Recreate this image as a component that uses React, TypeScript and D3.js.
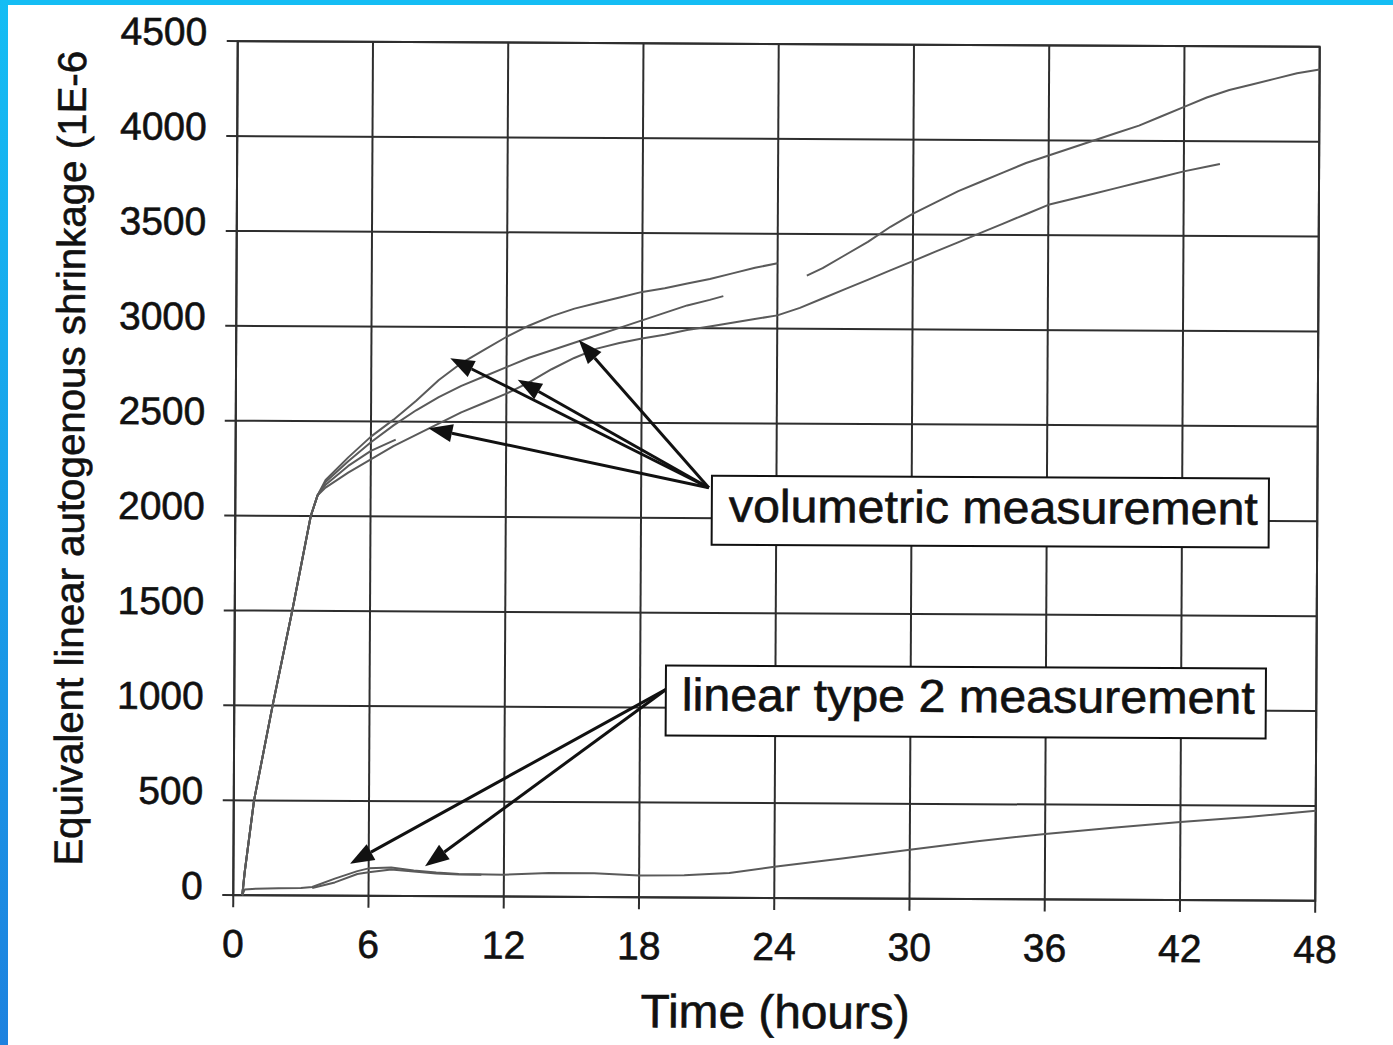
import React from "react";
import * as d3 from "d3";

const xTicks = [0, 6, 12, 18, 24, 30, 36, 42, 48];
const yTicks = [0, 500, 1000, 1500, 2000, 2500, 3000, 3500, 4000, 4500];

const riseTime = [0.4, 0.5, 0.9, 1.7, 2.55, 3.35, 3.65];
const riseValue = [0, 120, 500, 1000, 1500, 2000, 2110];

const volATime = [4, 5, 6, 7, 8, 9, 10, 11, 12, 13, 14, 15, 16, 17, 18, 19, 20, 21, 22, 23, 24];
const volAValue = [2190, 2310, 2420, 2510, 2610, 2720, 2810, 2880, 2950, 3010, 3060, 3100, 3130, 3160, 3190, 3210, 3235, 3260, 3290, 3320, 3345];

const volBTime = [4, 5, 6, 7, 8, 9, 10, 11, 12, 13, 14, 15, 16, 17, 18, 19, 20, 21, 21.6];
const volBValue = [2180, 2290, 2390, 2480, 2560, 2630, 2690, 2740, 2790, 2840, 2880, 2920, 2960, 3000, 3040, 3080, 3120, 3150, 3170];

const volCTime = [4, 5, 6, 7, 8, 9, 10, 11, 12, 13, 14, 15, 16, 17, 18, 19, 20, 21, 22, 23, 24, 25, 26, 27, 28, 29, 30, 31, 32, 33, 34, 35, 36, 37, 38, 39, 40, 41, 42, 43, 43.6];
const volCValue = [2150, 2230, 2300, 2370, 2430, 2490, 2550, 2600, 2650, 2710, 2780, 2840, 2890, 2920, 2945, 2965, 2990, 3010, 3030, 3050, 3070, 3110, 3160, 3210, 3260, 3310, 3360, 3410, 3460, 3510, 3560, 3610, 3660, 3690, 3720, 3750, 3780, 3810, 3840, 3865, 3880];

const volETime = [4, 5, 6, 7.1];
const volEValue = [2165, 2265, 2345, 2405];

const volDTime = [25.3, 26, 27, 28, 29, 30, 31, 32, 33, 34, 35, 36, 37, 38, 39, 40, 41, 42, 43, 44, 45, 46, 47, 48];
const volDValue = [3280, 3320, 3390, 3460, 3540, 3610, 3670, 3730, 3780, 3830, 3880, 3920, 3960, 4000, 4040, 4080, 4130, 4180, 4230, 4270, 4300, 4330, 4360, 4380];

const lin1Time = [0.4, 0.5, 1, 2, 3, 3.5, 4.5, 5.5, 6, 7, 8, 9, 10, 12, 14, 16, 18, 20, 22, 24, 27, 30, 33, 36, 39, 42, 45, 48];
const lin1Value = [0, 30, 35, 38, 40, 45, 90, 130, 145, 150, 135, 125, 118, 115, 125, 125, 115, 118, 130, 165, 210, 258, 305, 345, 380, 412, 440, 475];

const lin2Time = [3.5, 4.5, 5.5, 6, 7, 8, 9, 10, 11];
const lin2Value = [40, 70, 115, 125, 140, 130, 120, 115, 115];

const volArrowFrom = [21.0, 2160];
const volArrowTo = [[9.5, 2835], [12.5, 2724], [15.2, 2935], [8.55, 2466]];
const linArrowFrom = [19.15, 1096];
const linArrowTo = [[5.17, 169], [8.5, 158]];

const labelVol = "volumetric measurement";
const labelLin = "linear type 2 measurement";
const xTitle = "Time (hours)";
const yTitle = "Equivalent linear autogenous shrinkage (1E-6";

const W = 1393, H = 1045;
const L = 235.5, R = 1317.5, T = 44, B = 898;

function pts(ts: number[], vs: number[]): [number, number][] {
  return ts.map((t, i) => [t, vs[i]]);
}

export default function App() {
  const x = d3.scaleLinear().domain([0, 48]).range([L, R]);
  const y = d3.scaleLinear().domain([0, 4500]).range([B, T]);
  const line = d3.line<[number, number]>().x(d => x(d[0])).y(d => y(d[1]));
  const rise = pts(riseTime, riseValue);
  const series: [number, number][][] = [
    rise.concat(pts(volATime, volAValue)),
    rise.concat(pts(volBTime, volBValue)),
    rise.concat(pts(volCTime, volCValue)),
    rise.concat(pts(volETime, volEValue)),
    pts(volDTime, volDValue),
    pts(lin1Time, lin1Value),
    pts(lin2Time, lin2Value),
  ];
  const font = "'Liberation Sans', Arial, sans-serif";
  const grid = "#2e2e2e";
  const txt = { fill: "#111", stroke: "#111", strokeWidth: 0.6 };

  const arrow = (from: number[], to: number[], key: string) => {
    const x1 = x(from[0]), y1 = y(from[1]), x2 = x(to[0]), y2 = y(to[1]);
    const a = Math.atan2(y2 - y1, x2 - x1);
    const len = 24, hw = 9;
    const bx = x2 - len * Math.cos(a), by = y2 - len * Math.sin(a);
    const p1 = [bx + hw * Math.sin(a), by - hw * Math.cos(a)];
    const p2 = [bx - hw * Math.sin(a), by + hw * Math.cos(a)];
    return (
      <g key={key}>
        <line x1={x1} y1={y1} x2={bx} y2={by} stroke="#111" strokeWidth={3} />
        <polygon points={`${x2},${y2} ${p1[0]},${p1[1]} ${p2[0]},${p2[1]}`} fill="#111" />
      </g>
    );
  };

  const cx = (L + R) / 2, cy = (T + B) / 2;

  return (
    <svg width={W} height={H} style={{ position: "absolute", left: 0, top: 0, background: "#fff" }}>
      <defs>
        <linearGradient id="bl" x1="0" y1="0" x2="0" y2="1">
          <stop offset="0" stopColor="#14bdf4" />
          <stop offset="1" stopColor="#1d82df" />
        </linearGradient>
      </defs>
      <rect x={0} y={0} width={W} height={H} fill="#fff" />
      <g transform={`rotate(0.3 ${cx} ${cy})`}>
        {xTicks.map(t => (
          <g key={"x" + t}>
            <line x1={x(t)} x2={x(t)} y1={T} y2={B + 12} stroke={grid} strokeWidth={2} />
            <text x={x(t)} y={B + 62} textAnchor="middle" fontFamily={font} fontSize={39} {...txt}>{t}</text>
          </g>
        ))}
        {yTicks.map(v => (
          <g key={"y" + v}>
            <line x1={L - 11} x2={R} y1={y(v)} y2={y(v)} stroke={grid} strokeWidth={2} />
            <text x={205} y={y(v) + 4} textAnchor="end" fontFamily={font} fontSize={39} {...txt}>{v}</text>
          </g>
        ))}
        <rect x={L} y={T} width={R - L} height={B - T} fill="none" stroke={grid} strokeWidth={2} />
        {series.map((s, i) => (
          <path key={"s" + i} d={line(s) || ""} fill="none" stroke="#5a5a5a" strokeWidth={2} strokeLinejoin="round" />
        ))}
        {volArrowTo.map((p, i) => arrow(volArrowFrom, p, "va" + i))}
        {linArrowTo.map((p, i) => arrow(linArrowFrom, p, "la" + i))}
        <rect x={712} y={476} width={557} height={69} fill="#fff" stroke="#111" strokeWidth={2} />
        <text x={729} y={522} fontFamily={font} fontSize={46} textLength={529} lengthAdjust="spacingAndGlyphs" {...txt}>{labelVol}</text>
        <rect x={667} y={666} width={600} height={70} fill="#fff" stroke="#111" strokeWidth={2} />
        <text x={683} y={711} fontFamily={font} fontSize={46} textLength={573} lengthAdjust="spacingAndGlyphs" {...txt}>{labelLin}</text>
        <text x={778} y={1028} textAnchor="middle" fontFamily={font} fontSize={47} textLength={269} lengthAdjust="spacingAndGlyphs" {...txt}>{xTitle}</text>
        <text transform={`translate(84 462) rotate(-90)`} textAnchor="middle" fontFamily={font} fontSize={40} textLength={815} lengthAdjust="spacingAndGlyphs" {...txt}>{yTitle}</text>
      </g>
      <rect x={0} y={0} width={W} height={5} fill="#14bdf4" />
      <rect x={0} y={0} width={8} height={H} fill="url(#bl)" />
    </svg>
  );
}
